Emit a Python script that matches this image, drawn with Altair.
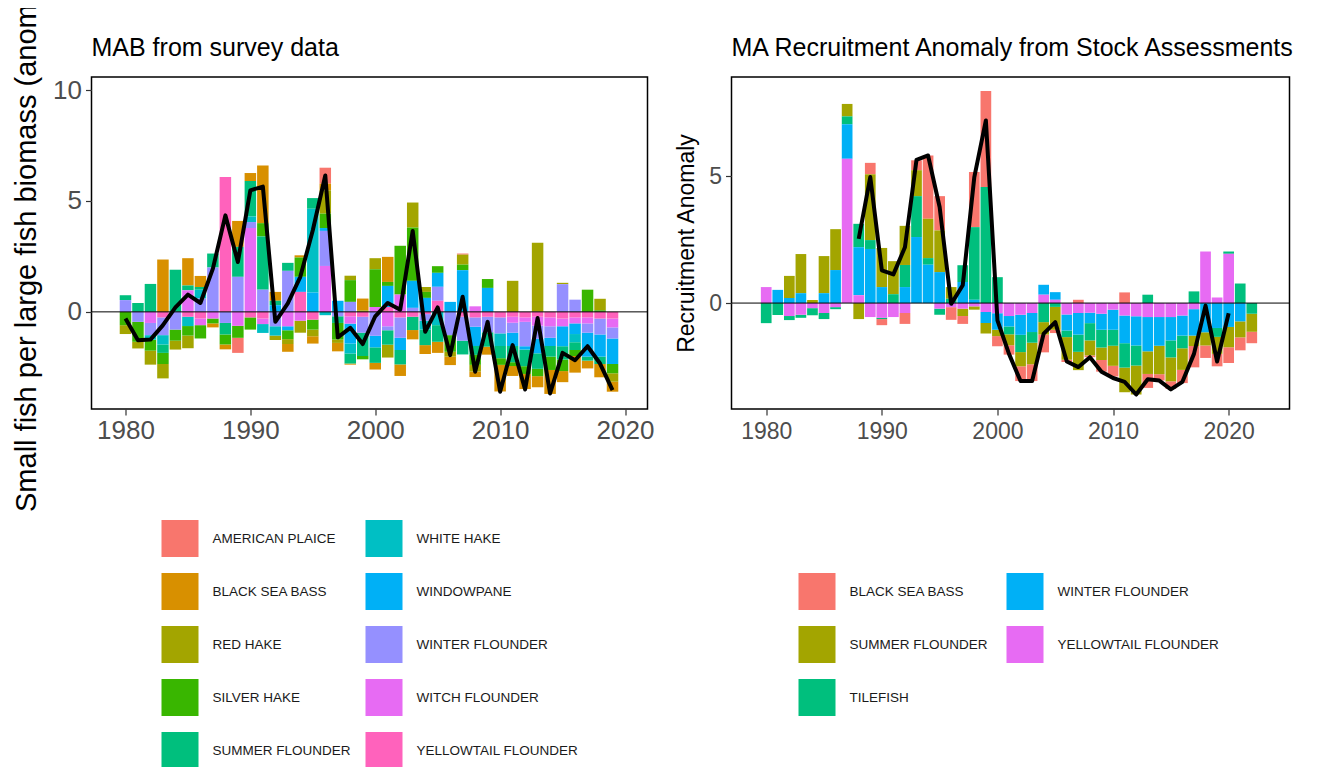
import altair as alt
import pandas as pd

FONT = "Liberation Sans"

# ---------------- Left panel: MAB from survey data ----------------
years_l = list(range(1980, 2020))
species_l = ["AMERICAN PLAICE", "BLACK SEA BASS", "RED HAKE", "SILVER HAKE", "SUMMER FLOUNDER",
             "WHITE HAKE", "WINDOWPANE", "WINTER FLOUNDER", "WITCH FLOUNDER", "YELLOWTAIL FLOUNDER"]
colors_l = ["#F8766D", "#D89000", "#A3A500", "#39B600", "#00BF7D",
            "#00BFC4", "#00B0F6", "#9590FF", "#E76BF3", "#FF62BC"]

american_plaice = [0, 0, 0, 0, 0, 0, 0, 0, 0, -0.68, 0, 0, 0, 0, 0, 0, 0.72, 0, 0, 0,
                   0, 0, 0, 0, 0, 0, 0, 0.05, 0, 0, 0, 0, 0, 0, 0, 0, 0, 0, 0, 0]
black_sea_bass = [0, 0, 0, 2.36, 0, 1.23, 0.5, -0.18, -0.22, 1.17, 0.36, 2.6, 0.4, -0.35, 0.1,
                  -0.33, 0.3, -0.38, -0.05, 0.53, -0.3, 1.13, -0.52, -0.42, -0.4, -0.5, -0.38, 0,
                  -0.25, -0.36, -1.2, -0.45, -0.68, -0.5, -1.08, -0.5, -0.75, -0.35, -0.6, -0.45]
red_hake = [-0.4, -0.3, -0.63, -0.65, -0.4, -0.57, 0, 0, 0, 0, 0, 0, -0.2, -0.22, -0.54, -0.3,
            1.05, -0.15, 0.2, 0.07, 0.5, -0.58, 0, 1.13, 0.22, 0, -0.22, 0.45, -0.3, 0, 0, 1.4,
            0, 3.12, 0, 0.06, 0, 0, 0.52, -0.38]
silver_hake = [-0.6, -0.9, -0.5, -0.5, -0.5, -0.43, -0.6, -0.22, -0.45, -0.54, -0.55, 0.6, 0,
               -0.4, 0.87, -0.45, 0.65, -0.75, 0.98, -0.15, 1.7, 0.18, 2.2, 2.4, 0.27, 0.3, -0.75,
               0.25, -0.45, 0.4, -0.3, -0.17, -0.35, -0.33, -0.6, -0.52, -0.27, 1.0, 0.07, -0.42]
summer_flounder = [0.22, 0.4, 1.26, -0.38, 1.9, 0.22, 0.12, 0.63, -0.52, 1.35, 1.6, 2.4, 0.2,
                   0.36, 0, 0.48, 0, -0.3, -0.45, -1.05, -0.7, -0.65, -0.65, -0.6, -0.7, -0.75, 0,
                   -0.62, -0.4, -0.65, -0.55, -0.73, -0.75, -0.7, -0.48, -0.6, -0.35, -0.18, -0.33, 0]
white_hake = [0, 0, -0.2, -0.42, 0, -0.42, 0.4, 0, 0, 0, 0.25, -0.4, -0.42, 0, 0, 3.78, -0.15, 0,
              -0.45, 0, 0, 0, 0, 0, -0.4, -0.6, 0, 0, 0, 0, -0.57, 0, 0, 0, 0, 0, -0.37, 0, 0, 0]
windowpane = [0, 0, 0, 0, 0, 0, 0, 0, 0, 0, 0, 0, 0.3, -0.18, 0.68, 0.87, 0.13, 0.5, -0.9, 0,
              -0.52, 0.95, -0.55, 1.22, 0.63, 0.63, 0.45, 1.88, -0.87, 1.08, 0, -0.6, -0.15,
              -0.65, -0.37, -0.9, -0.48, -1.08, -1.0, -1.15]
winter_flounder = [0.53, -0.45, -0.55, -0.8, -0.8, 0, 0.6, 2.0, -0.5, 1.58, 0.27, 1.0, -0.65,
                   1.85, 0, 0, 1.58, -0.2, 0.45, -0.72, -1.08, -0.18, -0.92, 0.18, -0.3, 0.63,
                   -1.05, -1.08, -0.42, -0.7, -0.72, -0.45, -1.1, -0.6, -0.52, 1.25, 0.55, -0.42,
                   -0.72, -0.5]
witch_flounder = [0, 0, -0.5, 0, 0, 0.97, -0.3, -0.3, 0, -0.63, 3.78, -0.25, 0, -0.65, -0.4, 0,
                  2.07, 0, -0.33, 0, 0.22, -0.65, 0.78, 0, 0, 0, 0, 0, 0.25, 0, 0, -0.27, -0.2,
                  -0.4, -0.4, -0.35, -0.27, -0.27, 0, -0.4]
yellowtail_flounder = [0, 0, 0, -0.25, 0, -0.22, -0.3, 0, 6.08, 0, -0.25, -0.3, 0, 0, 0.9, -0.35,
                       0, 0, -0.2, -0.22, 0, 0.22, -0.25, -0.22, -0.1, 0.5, 0, -0.22, -0.25, -0.22,
                       -0.25, -0.22, -0.25, -0.22, -0.25, -0.3, -0.25, -0.25, -0.3, -0.3]
series_l = [american_plaice, black_sea_bass, red_hake, silver_hake, summer_flounder,
            white_hake, windowpane, winter_flounder, witch_flounder, yellowtail_flounder]

total_l = [-0.3, -1.28, -1.25, -0.6, 0.2, 0.78, 0.4, 1.95, 4.35, 2.25, 5.48, 5.65, -0.45, 0.38,
           1.58, 3.68, 6.15, -1.15, -0.72, -1.45, -0.2, 0.4, 0.1, 3.65, -0.9, 0.2, -1.95, 0.68,
           -2.7, -0.45, -3.6, -1.5, -3.5, -0.28, -3.68, -1.85, -2.18, -1.55, -2.33, -3.53]

# ---------------- Right panel: MA recruitment anomaly ----------------
years_r = list(range(1980, 2023))
species_r = ["BLACK SEA BASS", "SUMMER FLOUNDER", "TILEFISH", "WINTER FLOUNDER", "YELLOWTAIL FLOUNDER"]
colors_r = ["#F8766D", "#A3A500", "#00BF7D", "#00B0F6", "#E76BF3"]

bsb_r = [0, 0, 0, 0, 0, 0, 0, 0, 0, 0.45, -0.24, 0, -0.43, 0.39, 2.49, 1.35, -0.5, -0.31, 2.17,
         3.78, -0.4, -0.37, -0.58, -0.66, -0.7, -0.13, -0.09, 0.13, -0.07, -0.46, -0.42, 0.42, 0,
         -0.55, -0.25, -0.3, -0.52, -0.84, -0.49, -0.49, -0.62, -0.51, -0.45]
summer_r = [0, 0, 0.87, 1.54, 0.12, 1.46, 1.61, 0.49, -0.63, 2.59, 1.54, 1.3, 1.54, 1.02, 1.55,
            1.64, 0.46, -0.29, -0.13, -0.42, -0.25, -0.43, -0.56, -0.85, -0.49, -0.9, -0.89,
            -0.72, -0.59, -0.49, -0.79, -0.97, -1.14, -0.89, -1.12, -0.94, -0.85, -0.41, -0.52,
            -0.67, -0.8, -0.63, -0.71]
tilefish_r = [-0.79, -0.47, -0.16, -0.12, -0.28, -0.24, -0.08, 0.31, 0.92, 0.35, -0.05, 0.35,
              0.87, 1.61, 0.26, -0.24, 0.17, 0.66, 2.86, 4.57, 1.02, -0.31, -0.68, -0.42, -0.75,
              -0.15, -0.26, -0.68, -0.68, -0.7, -0.63, -0.96, -0.79, 0.33, 0, -0.67, -0.5, 0.46,
              0, -0.35, 0.09, 0.77, -0.42]
winter_r = [0, 0.52, 0.2, 0.39, 0, 0.39, 1.3, 1.36, 1.89, 2.13, 0.63, 0, 0.63, 2.6, 1.51, 1.22,
            0, 0.83, 0.13, -0.43, -0.65, -0.41, -0.79, -0.75, 0.39, 0.3, -0.63, -0.85, -0.41,
            -0.63, -0.79, -1.09, -1.15, -1.35, -1.13, -0.92, -0.79, -1.04, -1.15, -0.98, -0.94,
            -0.72, 0]
yellowtail_r = [0.63, 0, -0.51, -0.46, -0.2, -0.39, -0.16, 5.68, 0.31, -0.55, -0.58, -0.55, -0.39,
                0, 0, -0.22, -0.16, -0.22, -0.13, -0.35, -0.4, -0.51, -0.46, -0.39, 0.33, 0.13,
                -0.45, -0.39, -0.38, -0.42, -0.26, -0.49, -0.52, -0.55, -0.55, -0.55, -0.49,
                -0.24, 2.03, 0.22, 1.94, 0, 0]
series_r = [bsb_r, summer_r, tilefish_r, winter_r, yellowtail_r]

line_years_r = list(range(1988, 2021))
total_r = [2.53, 4.96, 1.29, 1.13, 2.2, 5.64, 5.81, 3.78, -0.03, 0.7, 4.96, 7.19, -0.68, -2.0,
           -3.07, -3.07, -1.2, -0.75, -2.3, -2.52, -2.13, -2.7, -2.95, -3.1, -3.6, -3.0, -3.05,
           -3.4, -3.1, -2.0, -0.1, -2.3, -0.4]


def long_frame(years, names, series):
    rows = []
    n = len(names)
    for i, (name, vals) in enumerate(zip(names, series)):
        for yr, v in zip(years, vals):
            if v != 0:
                rows.append({"year": yr, "species": name, "value": v, "rank": n - i})
    return pd.DataFrame(rows)


df_l = long_frame(years_l, species_l, series_l)
df_r = long_frame(years_r, species_r, series_r)
line_l = pd.DataFrame({"year": years_l, "value": total_l})
line_r = pd.DataFrame({"year": line_years_r, "value": total_r})


def panel(df, line_df, dom_x, dom_y, yticks, bar_size, tick_fs, xpad, leg_dom, leg_col,
          legx, legy, colpad, title, width, height, ytitle=None):
    x_enc = alt.X("year:Q", scale=alt.Scale(domain=dom_x, nice=False, zero=False),
                  axis=alt.Axis(values=[1980, 1990, 2000, 2010, 2020], format="d", title=None,
                                labelFontSize=tick_fs, labelPadding=xpad, labelFlush=False,
                                labelOverlap=False))
    y_axis_kwargs = dict(values=yticks, labelFontSize=tick_fs, labelPadding=4,
                         labelOverlap=False)
    if ytitle:
        y_axis_kwargs.update(title=ytitle, titleFontSize=23, titleFontWeight="normal",
                             titleColor="black", titlePadding=10)
    else:
        y_axis_kwargs.update(title=None)
    y_enc = alt.Y("value:Q", stack="zero", scale=alt.Scale(domain=dom_y, nice=False, zero=False),
                  axis=alt.Axis(**y_axis_kwargs))
    bars = alt.Chart(df).mark_bar(size=bar_size).encode(
        x=x_enc, y=y_enc,
        color=alt.Color("species:N", title=None,
                        scale=alt.Scale(domain=leg_dom, range=leg_col),
                        legend=alt.Legend(orient="none", legendX=legx, legendY=legy, columns=2,
                                          symbolType="square", symbolSize=1369,
                                          symbolStrokeWidth=0, labelFontSize=13.5,
                                          labelFont=FONT, labelColor="#1a1a1a", labelOffset=14,
                                          rowPadding=16, columnPadding=colpad, padding=0,
                                          labelLimit=300)),
        order=alt.Order("rank:Q", sort="ascending"),
    )
    zero = alt.Chart(pd.DataFrame({"value": [0]})).mark_rule(color="black", strokeWidth=1).encode(
        y=alt.Y("value:Q", scale=alt.Scale(domain=dom_y, nice=False, zero=False)))
    line = alt.Chart(line_df).mark_line(color="black", strokeWidth=4, strokeJoin="round").encode(
        x=alt.X("year:Q", scale=alt.Scale(domain=dom_x, nice=False, zero=False)),
        y=alt.Y("value:Q", scale=alt.Scale(domain=dom_y, nice=False, zero=False)))
    ttl = alt.Chart(pd.DataFrame({"label": [title]})).mark_text(
        align="left", baseline="alphabetic", fontSize=25, font=FONT, color="black",
        fontWeight="normal").encode(x=alt.value(0), y=alt.value(-21.5), text="label:N")
    return alt.layer(bars, zero, line, ttl).properties(width=width, height=height)


left = panel(df_l, line_l, [1977.68, 2021.4], [-4.38, 10.59], [0, 5, 10], 11.5, 26, 2,
             species_l, colors_l, 70, 443, 14, "MAB from survey data", 556, 332)

ylab = alt.Chart(pd.DataFrame({"label": ["Small fish per large fish biomass (anomaly)"]})).mark_text(
    angle=270, align="left", baseline="alphabetic", fontSize=29, font=FONT, color="black"
).encode(x=alt.value(-56), y=alt.value(435), text="label:N")
left = alt.layer(left, ylab)

right = panel(df_r, line_r, [1977.43, 2024.83], [-4.17, 8.9], [0, 5], 10.7, 23, 5,
              species_r, colors_r, 67, 496, 18,
              "MA Recruitment Anomaly from Stock Assessments", 558, 332,
              ytitle="Recruitment Anomaly")

chart = alt.hconcat(left, right, spacing=84, bounds="flush").resolve_scale(
    color="independent", x="independent", y="independent").resolve_legend(
    color="independent").properties(
    padding={"left": 3.5, "top": -52, "right": 0, "bottom": 0}).configure(font=FONT).configure_view(
    stroke="black", strokeWidth=1.5).configure_axis(
    domain=False, grid=False, tickColor="#333333", tickSize=6, tickWidth=1.2,
    labelColor="#4D4D4D", labelFont=FONT, titleFont=FONT)

chart.save("out.html", embed_options={"renderer": "svg", "actions": False})
